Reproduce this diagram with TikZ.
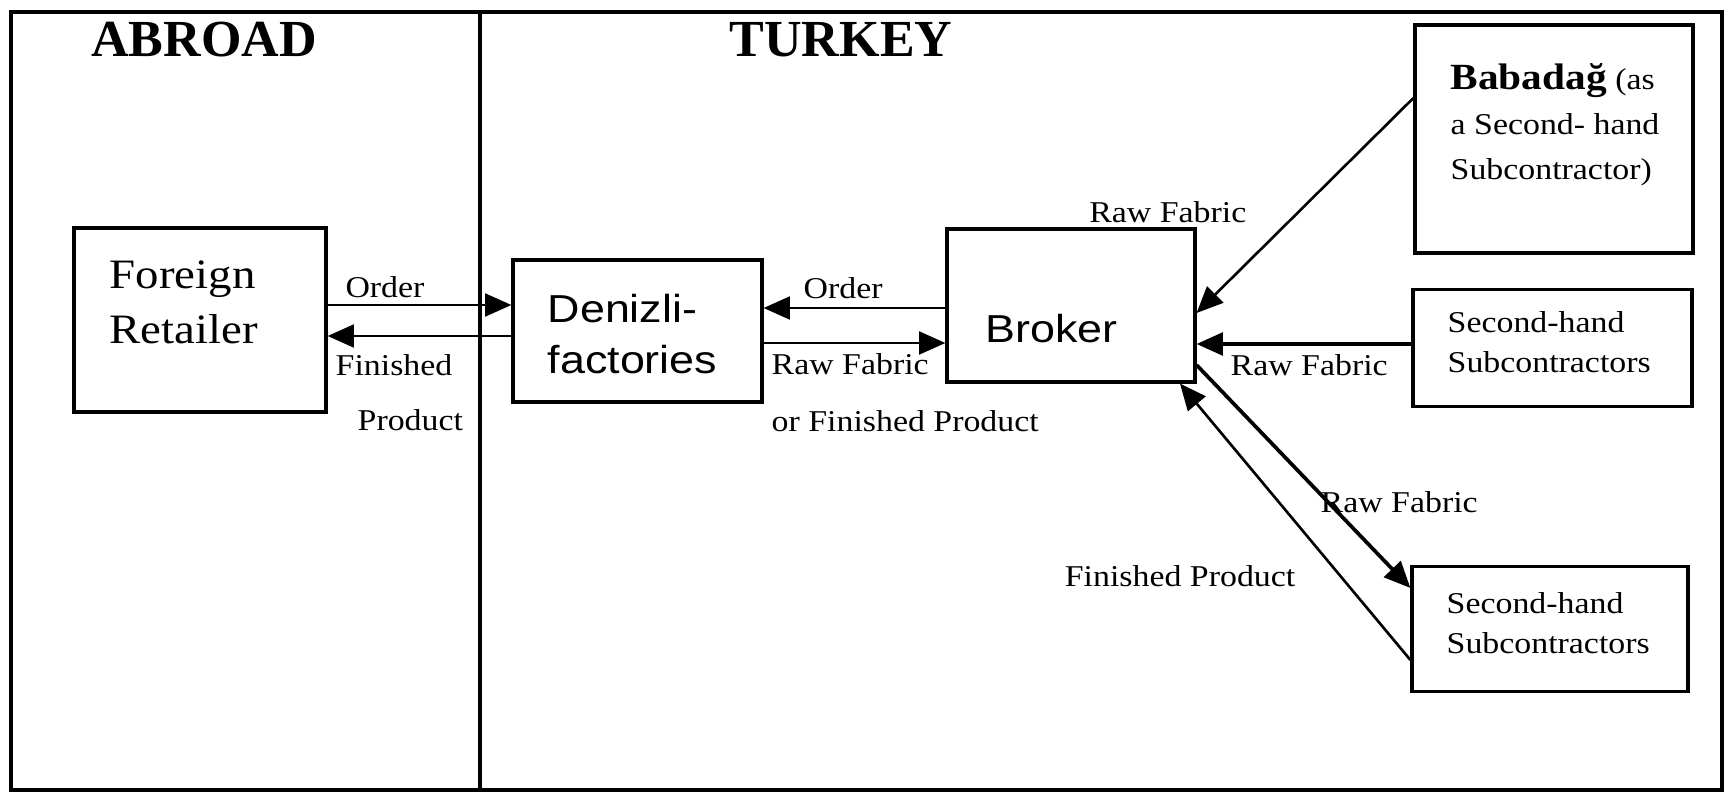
\documentclass[tikz,border=0pt]{standalone}
\usepackage{fontspec}
\setmainfont{Liberation Serif}[FakeStretch=1.12]
\setsansfont{Liberation Sans}[FakeStretch=1.15]
\newfontfamily\headfont{Liberation Serif}
\usetikzlibrary{arrows.meta, positioning, calc}

\begin{document}
\begin{tikzpicture}[
  box/.style={draw, line width=0.9pt, inner sep=0pt},
  flow/.style={-{Triangle[length=7.5pt, width=6.5pt]}, line width=0.75pt},
  lbl/.style={font=\fontsize{8.6}{11.3}\selectfont, inner sep=0pt, align=left},
  bigserif/.style={font=\fontsize{11.9}{15.6}\selectfont, inner sep=0pt, align=left},
  sanstext/.style={font=\sffamily\fontsize{11.1}{14.5}\selectfont, inner sep=0pt, align=left},
  head/.style={font=\headfont\bfseries\fontsize{14.8}{17}\selectfont, inner sep=0pt}
]
  \useasboundingbox (0,0) rectangle (17.28,7.93);

  %--- outer frame and the border between the two countries ---
  \draw[line width=1pt] (0.11,0.03) rectangle (17.22,7.81);
  \draw[line width=1pt] (4.80,0.03) -- (4.80,7.81);
  \node[head, anchor=base] (abroad) at (2.04,7.365) {ABROAD};
  \node[head, anchor=base] (turkey) at (8.41,7.365) {TURKEY};

  %--- boxes ---
  \node[box, minimum width=2.52cm, minimum height=1.84cm] (retailer) at (2.00,4.73) {};
  \node[box, minimum width=2.49cm, minimum height=1.42cm] (denizli)  at (6.375,4.62) {};
  \node[box, minimum width=2.48cm, minimum height=1.53cm] (broker)   at (10.71,4.875) {};
  \node[box, minimum width=2.78cm, minimum height=2.28cm] (babadag)  at (15.54,6.54) {};
  \node[box, minimum width=2.79cm, minimum height=1.165cm] (submid)  at (15.525,4.45) {};
  \node[box, minimum width=2.76cm, minimum height=1.25cm] (subbot)   at (15.50,1.643) {};

  % box texts (anchored at the baseline of the last line)
  \node[bigserif, anchor=base west] (retailertext) at (1.09,4.50) {Foreign\\Retailer};
  \node[sanstext, anchor=base west] (denizlitext) at (5.47,4.195) {Denizli-\\factories};
  \node[sanstext, anchor=base west] (brokertext) at (9.85,4.51) {Broker};
  \node[lbl, anchor=base west, font=\fontsize{8.6}{12.8}\selectfont] (babadagtext) at (14.50,6.14)
    {{\fontsize{10.5}{12.8}\selectfont\bfseries Babadağ} (as\\a Second- hand\\Subcontractor)};
  \node[lbl, anchor=base west] (submidtext) at (14.47,4.21) {Second-hand\\Subcontractors};
  \node[lbl, anchor=base west] (subbottext) at (14.46,1.40) {Second-hand\\Subcontractors};

  %--- flows between retailer and factories ---
  \draw[flow] (retailer.east |- 0,4.88) -- (denizli.west |- 0,4.88);
  \draw[flow] (denizli.west |- 0,4.57) -- (retailer.east |- 0,4.57);
  \node[lbl, anchor=base] (order1) at (3.85,4.96) {Order};
  \node[lbl, anchor=base west] (fin1a) at (3.35,4.18) {Finished};
  \node[lbl, anchor=base west] (fin1b) at (3.57,3.63) {Product};

  %--- flows between factories and broker ---
  \draw[flow] (broker.west |- 0,4.85) -- (denizli.east |- 0,4.85);
  \draw[flow] (denizli.east |- 0,4.50) -- (broker.west |- 0,4.50);
  \node[lbl, anchor=base west] (order2) at (8.03,4.95) {Order};
  \node[lbl, anchor=base west, font=\fontsize{8.6}{16}\selectfont] (raw1) at (7.71,3.62)
    {Raw Fabric\\or Finished Product};

  %--- subcontractors ---
  \draw[flow] (babadag.west |- 0,6.95) -- (broker.east |- 0,4.80);
  \node[lbl, anchor=base east] (raw2) at (12.47,5.70) {Raw Fabric};
  \draw[flow, line width=0.9pt] (submid.west |- 0,4.49) -- (broker.east |- 0,4.49);
  \node[lbl, anchor=base west] (raw3) at (12.30,4.18) {Raw Fabric};
  \draw[flow, line width=1.05pt] (broker.east |- 0,4.28) -- (subbot.west |- 0,2.05);
  \node[lbl, anchor=base west] (raw4) at (13.20,2.81) {Raw Fabric};
  \draw[flow] (subbot.west |- 0,1.33) -- (broker.south -| 11.80,0);
  \node[lbl, anchor=base east] (fin2) at (12.96,2.07) {Finished Product};
\end{tikzpicture}
\end{document}
